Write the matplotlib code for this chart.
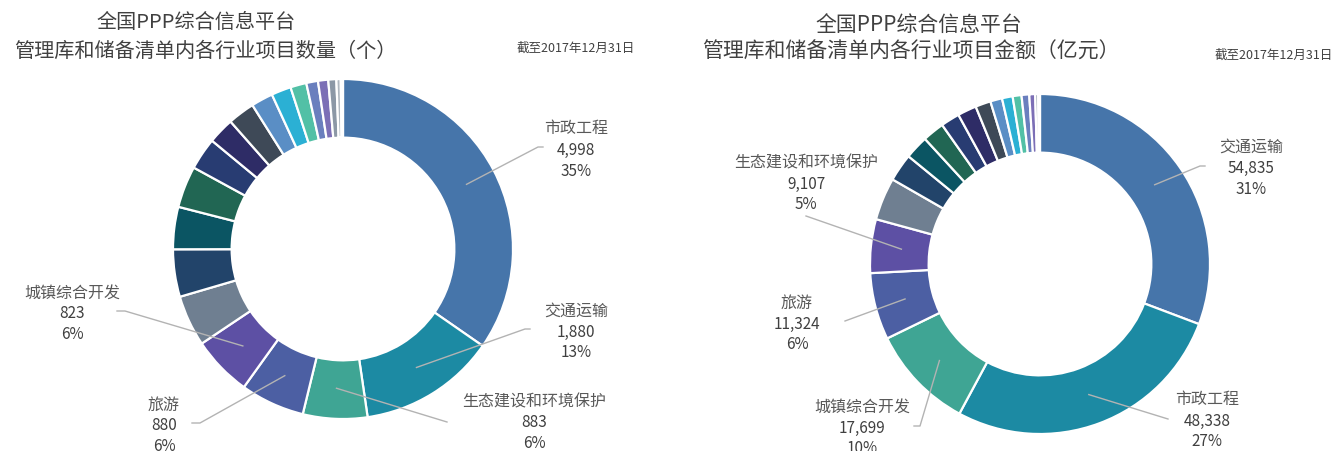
import numpy as np
import matplotlib
matplotlib.use('Agg')
import matplotlib.pyplot as plt

plt.rcParams['font.family'] = ['Noto Sans CJK SC', 'DejaVu Sans']

W, H = 1341, 452

# 左图：项目数量（个）
count_names = ['市政工程', '交通运输', '生态建设和环境保护', '旅游', '城镇综合开发',
               '教育', '水利建设', '保障性安居工程', '医疗卫生', '片区开发', '文化', '养老',
               '体育', '政府基础设施', '能源', '农业', '科技', '林业', '社会保障', '其他']
count_values = [4998, 1880, 883, 880, 823,
                700, 650, 580, 570, 440, 360, 370, 300, 270, 220, 160, 140, 110, 60, 30]

# 右图：项目金额（亿元）
amount_names = ['交通运输', '市政工程', '城镇综合开发', '旅游', '生态建设和环境保护',
                '片区开发', '保障性安居工程', '水利建设', '能源', '教育', '政府基础设施', '医疗卫生',
                '文化', '体育', '养老', '农业', '科技', '林业', '其他']
amount_values = [54835, 48338, 17699, 11324, 9107,
                 7200, 4700, 4000, 3700, 3200, 3200, 2600, 2000, 1800, 1500, 1300, 1000, 500, 300]

palette = ['#4675aa', '#1c8aa3', '#3fa594', '#4c5fa3', '#5d50a4',
           '#6f7f91', '#22446a', '#0b5563', '#216653', '#283c72',
           '#2e2c66', '#3e4957', '#5a8ec5', '#2bb0d4', '#52c0a6',
           '#6a7fbe', '#7c6fb6', '#8c98a6', '#b0b8c0', '#6c6c8c']

# 标签布局：(文字中心x, 第一行y, 引线终点x, 引线终点y, 水平折线长度)  图像像素坐标
left_layout = [(576, 129, 538, 148, -5), (576, 311, 525, 330, -5), (534, 402, 447, 423, 0),
               (164, 405, 200, 424, 8), (72, 293, 125, 312, 8)]
right_layout = [(1251, 147, 1200, 167, -5), (1207, 400, 1168, 420, 0), (862, 407, 920, 427, 6),
                (797, 303, 845, 322, 0), (806, 163, 806, 217, 0)]

fig = plt.figure(figsize=(W / 100, H / 100), dpi=100)
ax = fig.add_axes([0, 0, 1, 1])


def draw_donut(values, names, cx, cy, R, layout):
    wedges, _ = ax.pie(values, colors=palette[:len(values)], startangle=90, counterclock=False,
                       radius=R, center=(cx, H - cy), frame=False,
                       wedgeprops=dict(width=R * 0.345, edgecolor='white', linewidth=1.6))
    total = float(sum(values))
    for i, (tx, ty, lx, ly, dx) in enumerate(layout):
        w = wedges[i]
        mid = np.deg2rad((w.theta1 + w.theta2) / 2)
        sx = cx + 0.82 * R * np.cos(mid)
        sy = (H - cy) + 0.82 * R * np.sin(mid)
        xs = [sx, lx, lx - dx] if dx else [sx, lx]
        ys = [sy, H - ly, H - ly] if dx else [sy, H - ly]
        ax.plot(xs, ys, color='#b3b3b3', lw=1.0, zorder=3)
        ax.text(tx, H - ty, names[i], ha='center', va='center', fontsize=11.5, color='#595959')
        ax.text(tx, H - ty - 21, '{:,}'.format(values[i]), ha='center', va='center',
                fontsize=11, color='#404040')
        ax.text(tx, H - ty - 42, '{:.0f}%'.format(values[i] / total * 100), ha='center',
                va='center', fontsize=11, color='#404040')


draw_donut(count_values, count_names, 343, 250, 170, left_layout)
draw_donut(amount_values, amount_names, 1040, 265, 170, right_layout)

ax.set_xlim(0, W)
ax.set_ylim(0, H)
ax.axis('off')

# 标题
ax.text(196, H - 22, '全国PPP综合信息平台', ha='center', va='center', fontsize=14.5, color='#404040')
ax.text(205, H - 51, '管理库和储备清单内各行业项目数量（个）', ha='center', va='center',
        fontsize=14.5, color='#404040')
ax.text(576, H - 48, '截至2017年12月31日', ha='center', va='center', fontsize=9, color='#404040')

ax.text(919, H - 25, '全国PPP综合信息平台', ha='center', va='center', fontsize=15, color='#404040')
ax.text(911, H - 52, '管理库和储备清单内各行业项目金额（亿元）', ha='center', va='center',
        fontsize=15, color='#404040')
ax.text(1274, H - 55, '截至2017年12月31日', ha='center', va='center', fontsize=9, color='#404040')

fig.savefig('out.png', dpi=100, facecolor='white')
